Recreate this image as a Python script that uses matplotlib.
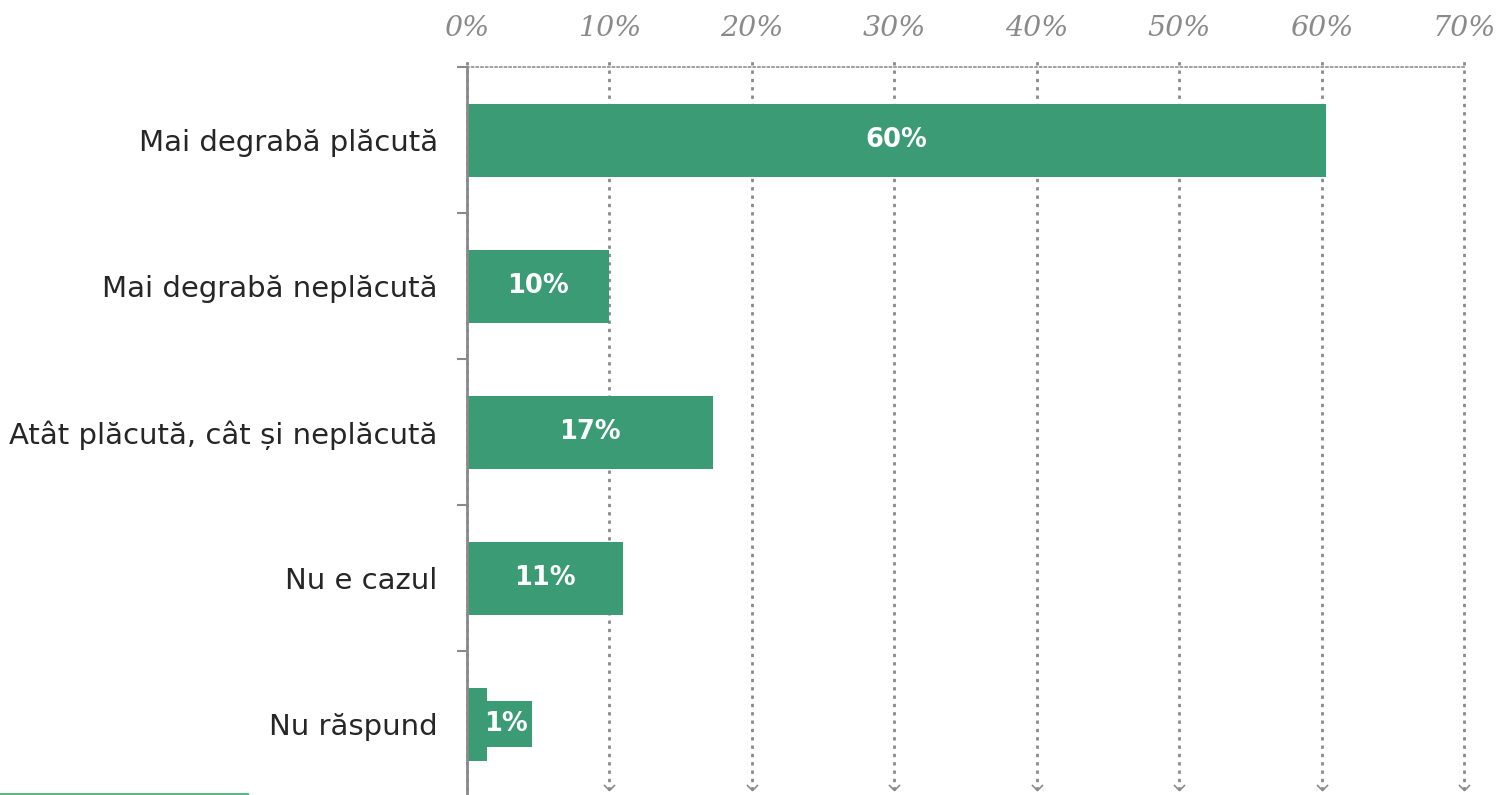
import matplotlib
matplotlib.use("Agg")
import matplotlib.pyplot as plt
from matplotlib.path import Path
from matplotlib.lines import Line2D
from matplotlib.patches import Rectangle
import matplotlib.transforms as mtrans

categories = ["Mai degrabă plăcută", "Mai degrabă neplăcută",
              "Atât plăcută, cât și neplăcută", "Nu e cazul", "Nu răspund"]
values = [60.3, 10.0, 17.3, 10.95, 1.4]
labels = ["60%", "10%", "17%", "11%", "1%"]
xticks = [0, 10, 20, 30, 40, 50, 60, 70]
xticklabels = ["0%", "10%", "20%", "30%", "40%", "50%", "60%", "70%"]

W, H = 1498, 795
GREEN = "#3b9b75"
GRAY = "#8a8a8a"

fig = plt.figure(figsize=(W / 100, H / 100), dpi=100)
ax = fig.add_axes([467 / W, -2 / H, (1464 - 467) / W, 730 / H])

ypos = list(range(len(categories)))
ax.barh(ypos, values, height=0.5, color=GREEN, zorder=3)
ax.set_xlim(0, 70)
ax.set_ylim(len(categories) - 0.5, -0.5)

# value labels
for y, v, lab in zip(ypos, values, labels):
    if v > 5:
        ax.text(v / 2, y, lab, ha="center", va="center", color="white",
                fontsize=18.5, fontweight="bold", family="DejaVu Sans", zorder=4)
    else:
        bw, bh = 3.16, 0.315
        ax.add_patch(Rectangle((v, y - bh / 2), bw, bh, facecolor=GREEN,
                               edgecolor="none", zorder=3))
        ax.text(v + bw / 2 - 0.25, y, lab, ha="center", va="center",
                color="white", fontsize=18.5, fontweight="bold",
                family="DejaVu Sans", zorder=4)

# spines
for s in ["right", "bottom"]:
    ax.spines[s].set_visible(False)
ax.spines["top"].set_linestyle((0, (1, 1.6)))
ax.spines["top"].set_color("#999999")
ax.spines["top"].set_linewidth(1.3)
ax.spines["left"].set_color(GRAY)
ax.spines["left"].set_linewidth(2)
ax.spines["left"].set_zorder(5)

# x axis on top
ax.xaxis.tick_top()
ax.set_xticks(xticks)
ax.set_xticklabels(xticklabels, fontsize=20.5, style="italic",
                   family="DejaVu Serif", color=GRAY)
ax.tick_params(axis="x", length=0, pad=18)

# gridlines with arrowheads
trans = mtrans.blended_transform_factory(ax.transData, ax.transAxes)
ax.vlines(xticks, 7 / 730, 1 + 10 / 730, transform=trans, colors=GRAY,
          linestyles=(0, (1.2, 1.8)), linewidth=2, zorder=1, clip_on=False)
chev = Path([(-1, 1), (0, 0), (1, 1)], [Path.MOVETO, Path.LINETO, Path.LINETO])
ax.plot(xticks[1:], [7 / 730] * (len(xticks) - 1), transform=trans,
        linestyle="none", marker=chev, markersize=8, markerfacecolor="none",
        markeredgecolor=GRAY, markeredgewidth=1.2, clip_on=False, zorder=1)

# y axis
ax.set_yticks(ypos)
ax.set_yticklabels(categories, fontsize=21, color="#262626", family="DejaVu Sans")
ax.tick_params(axis="y", which="major", length=0, pad=21)
ax.set_yticks([y - 0.5 for y in ypos], minor=True)
ax.tick_params(axis="y", which="minor", length=7, width=1.5, color=GRAY)

fig.add_artist(Line2D([0, 248 / W], [1.5 / H, 1.5 / H], color="#5cb886",
                      linewidth=1.5, transform=fig.transFigure))

fig.savefig("out.png", dpi=100)
